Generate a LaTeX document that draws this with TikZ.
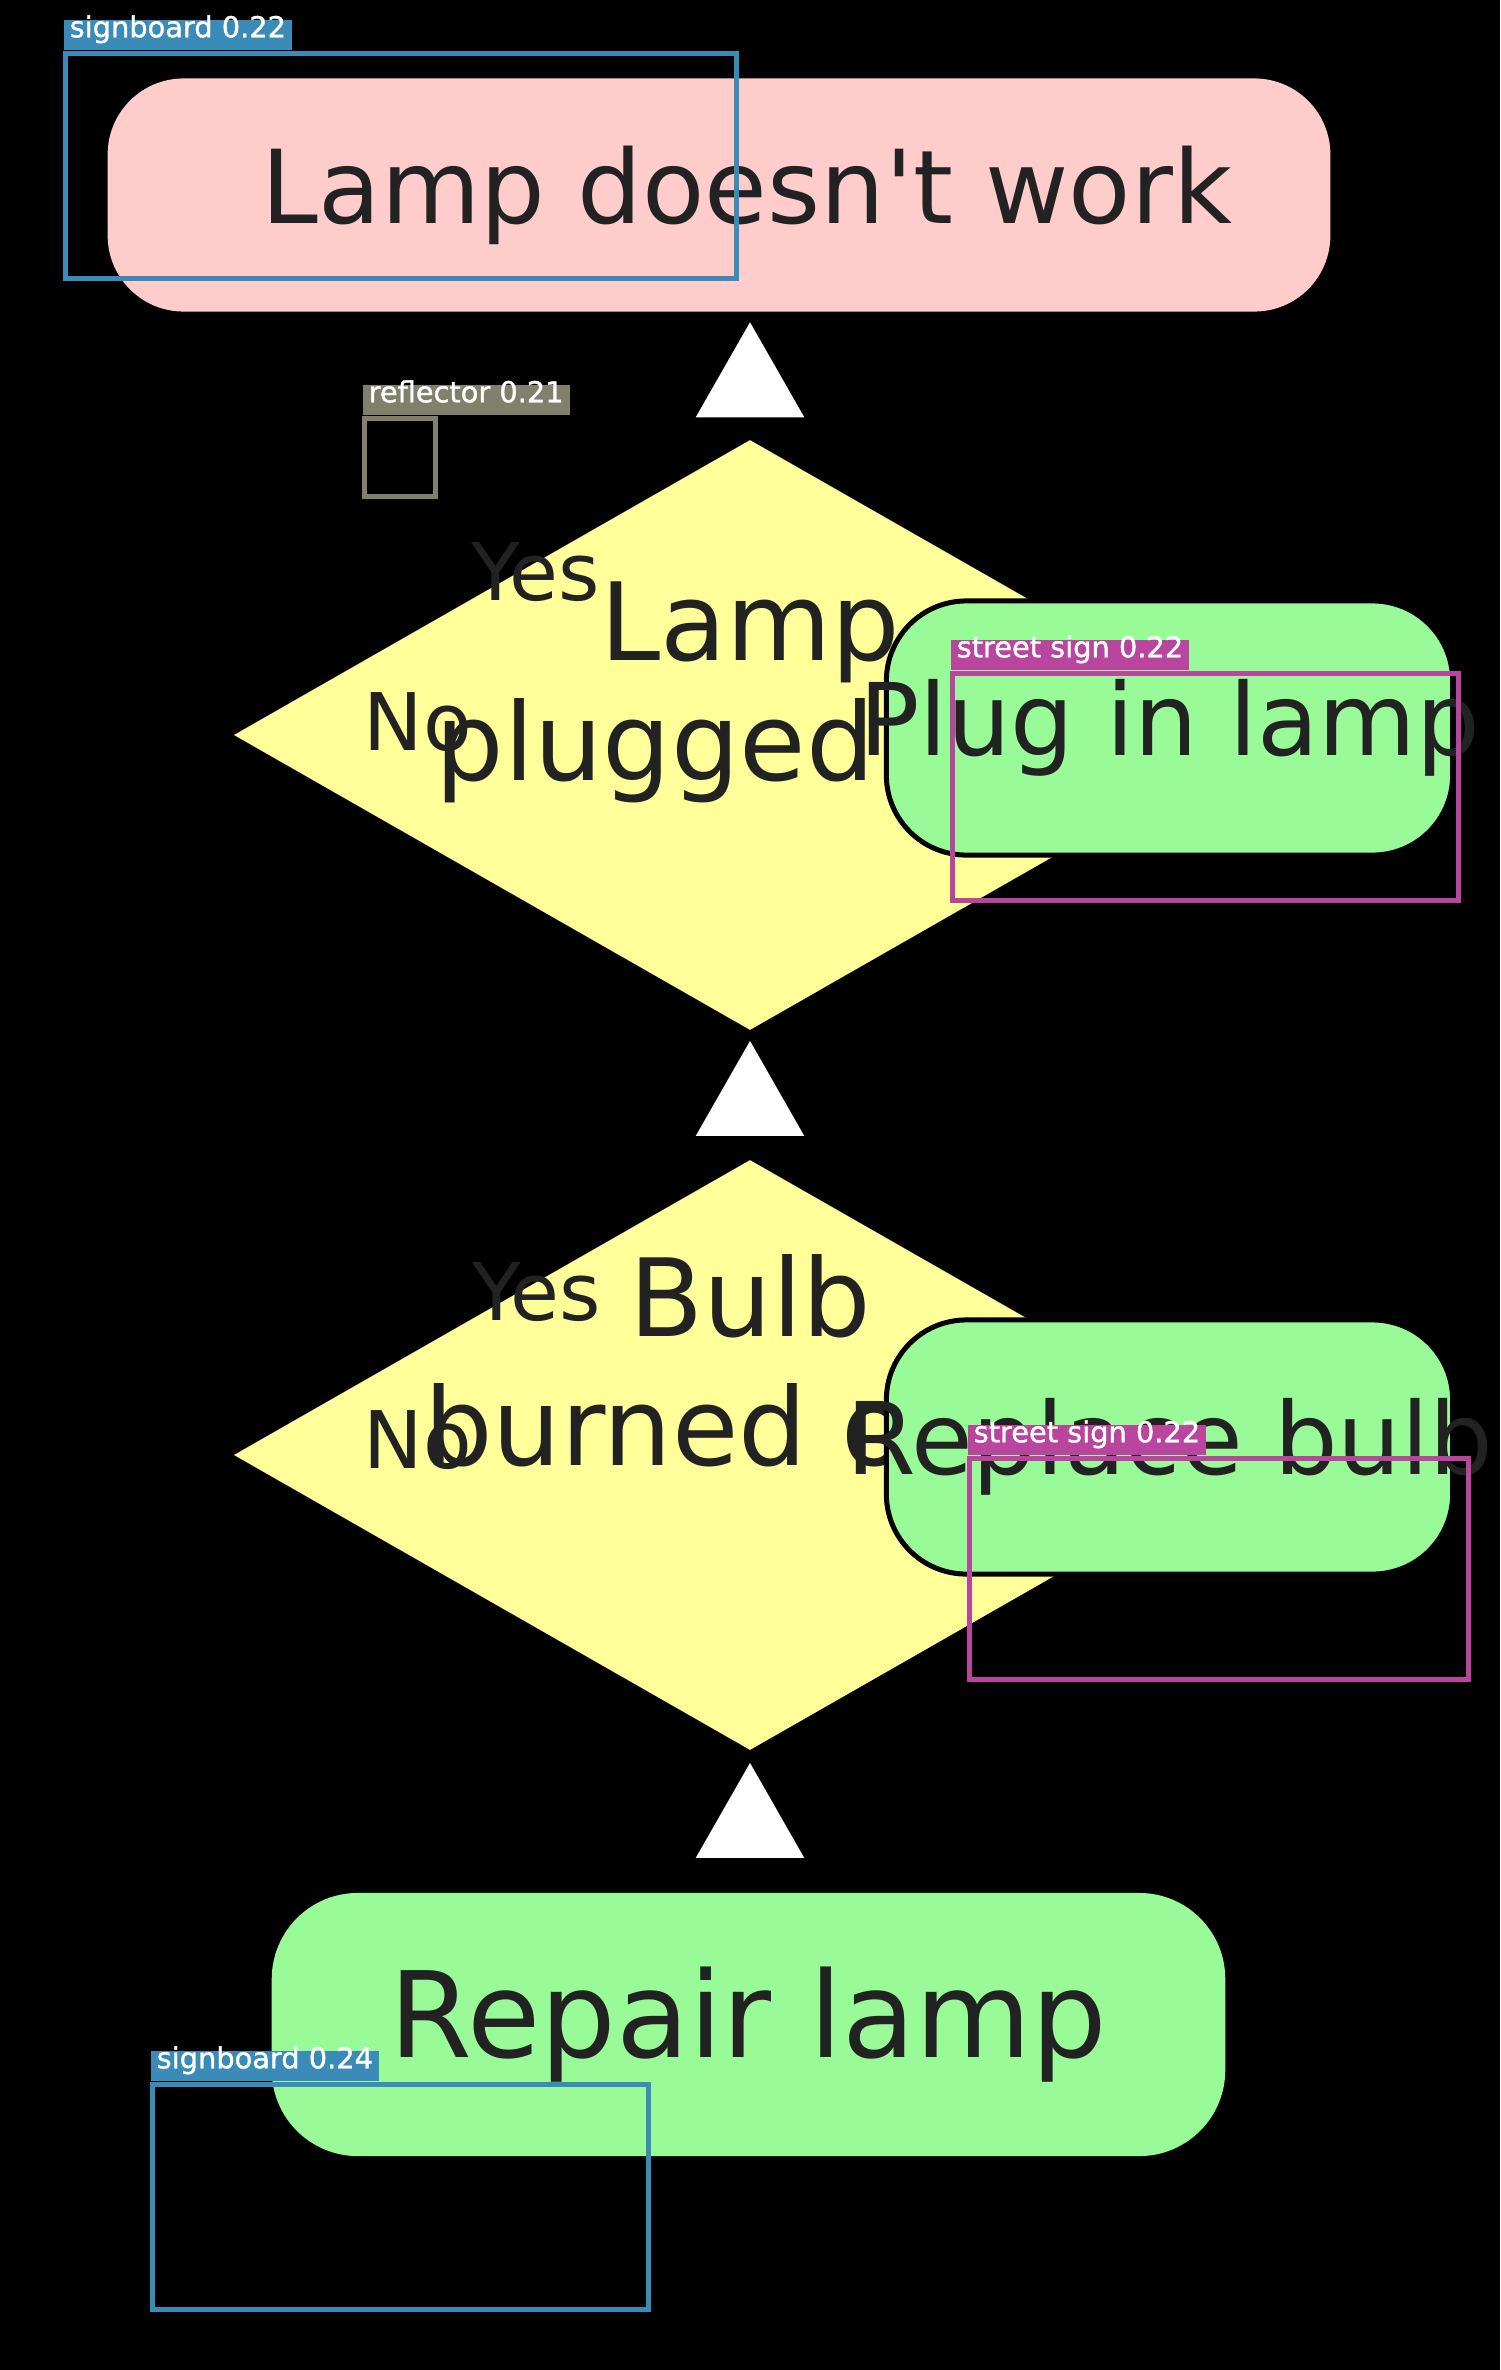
\documentclass[tikz,border=0pt]{standalone}
\usepackage{fontspec}
\setmainfont{DejaVu Sans}
\newfontfamily\detfont[FakeBold=1.2]{DejaVu Sans}
\usetikzlibrary{shapes.geometric, arrows.meta}

\definecolor{lamppink}{HTML}{FFCCCC}
\definecolor{lampgreen}{HTML}{98FB98}
\definecolor{lampyellow}{HTML}{FFFF99}
\definecolor{inkgray}{HTML}{222222}
\definecolor{signblue}{HTML}{3B8BB8}
\definecolor{reflgray}{HTML}{80806C}
\definecolor{streetpink}{HTML}{B9459E}

\newcommand{\nowidth}[1]{\makebox[0pt]{#1}}

\begin{document}
\begin{tikzpicture}[
    x=0.01cm, y=-0.01cm,
    box/.style={rectangle, inner sep=0pt, text=inkgray},
    start/.style={box, fill=lamppink, minimum width=12.22cm, minimum height=2.33cm, rounded corners=0.76cm, font=\fontsize{29}{34}\selectfont},
    action/.style={box, draw=black, line width=0.05cm, fill=lampgreen, minimum width=5.66cm, minimum height=2.54cm, rounded corners=0.8cm, font=\fontsize{28.5}{33}\selectfont},
    finish/.style={box, fill=lampgreen, minimum width=9.53cm, minimum height=2.63cm, rounded corners=0.86cm, font=\fontsize{33.9}{39}\selectfont},
    decision/.style={diamond, fill=lampyellow, minimum width=10.32cm, minimum height=5.9cm, inner sep=0pt},
    question/.style={anchor=base, align=center, inner sep=0pt, text=inkgray, font=\fontsize{30.7}{34.1}\selectfont},
    answer/.style={anchor=base west, inner sep=0pt, text=inkgray, font=\fontsize{22.6}{26}\selectfont},
    arrow/.style={draw=black, line width=0.02cm, -{Triangle[length=0.95cm, width=1.08cm, color=white]}},
    detbox/.style={line width=0.05cm},
    detlabel/.style={anchor=south west, text=white, inner xsep=0.06cm, inner ysep=0pt, text height=0.17cm, text depth=0.13cm, font=\detfont\fontsize{8.2}{9}\selectfont}
]
\useasboundingbox (0,0) rectangle (1500,2370);
\fill[black] (0,0) rectangle (1500,2370);

% Start
\node[start] (trouble) at (719,195) {\hspace{0.56cm}Lamp doesn\textquotesingle t work};

% Question 1: plugged in?
\node[decision] (plugged) at (750,735) {};
\node[question] (plugq) at (750,780) {Lamp\\plugged in?};
\node[answer] (yes1) at (471,600) {Yes};
\node[answer] (no1) at (363,750) {No};
\node[action] (plugin) at (1169.5,728) {\nowidth{Plug in lamp}};

% Question 2: bulb burned out?
\node[decision] (burned) at (750,1455) {};
\node[question] (burnq) at (750,1465) {Bulb\\[0.09cm]burned out?};
\node[answer] (yes2) at (472,1320) {Yes};
\node[answer] (no2) at (363,1468) {No};
\node[action] (replace) at (1169.5,1447) {\nowidth{Replace bulb}};

% End
\node[finish] (repair) at (748.5,2024.5) {Repair lamp};

\draw[arrow, shorten >=0.1cm] (plugged) -- (plugged |- trouble.south);
\draw[arrow, shorten >=0.1cm] (burned) -- (plugged);
\draw[arrow, shorten >=0.12cm] (repair.north -| burned) -- (burned);

% detector boxes
\draw[detbox, signblue] (65.5,53.5) rectangle (736.5,278.5);
\node[detlabel, fill=signblue] (sign1) at (63,51) {signboard 0.22};
\draw[detbox, reflgray] (364.5,418.5) rectangle (435.5,496.5);
\node[detlabel, fill=reflgray] (refl1) at (362,416) {reflector 0.21};
\draw[detbox, streetpink] (952.5,673.5) rectangle (1458.5,900.5);
\node[detlabel, fill=streetpink] (street1) at (950,671) {street sign 0.22};
\draw[detbox, streetpink] (969.5,1458.5) rectangle (1468.5,1679.5);
\node[detlabel, fill=streetpink] (street2) at (967,1456) {street sign 0.22};
\draw[detbox, signblue] (152.5,2084.5) rectangle (648.5,2309.5);
\node[detlabel, fill=signblue] (sign2) at (150,2082) {signboard 0.24};

\end{tikzpicture}
\end{document}
